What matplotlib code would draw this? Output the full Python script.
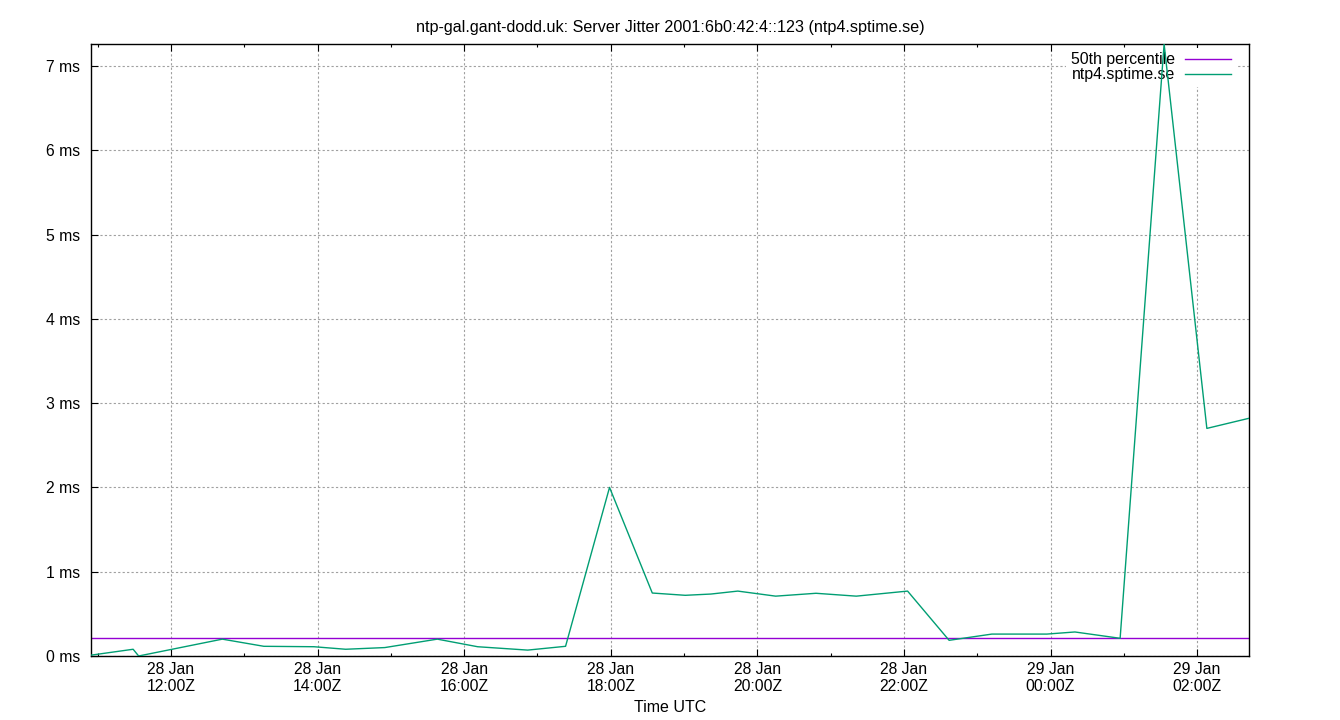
import pandas as pd
import matplotlib.pyplot as plt
import matplotlib.dates as mdates

plt.rcParams['font.family'] = ['Liberation Sans', 'DejaVu Sans']

# Data
times = [
    "2025-01-28 10:54:30", "2025-01-28 11:29:00", "2025-01-28 11:33:30", "2025-01-28 12:42:00",
    "2025-01-28 13:16:00", "2025-01-28 13:57:00", "2025-01-28 14:23:00", "2025-01-28 14:55:00",
    "2025-01-28 15:38:00", "2025-01-28 16:11:00", "2025-01-28 16:52:00", "2025-01-28 17:23:00",
    "2025-01-28 17:59:00", "2025-01-28 18:34:00", "2025-01-28 19:01:00", "2025-01-28 19:22:00",
    "2025-01-28 19:44:00", "2025-01-28 20:15:00", "2025-01-28 20:48:00", "2025-01-28 21:21:00",
    "2025-01-28 22:03:00", "2025-01-28 22:37:00", "2025-01-28 23:12:00", "2025-01-28 23:57:00",
    "2025-01-29 00:20:00", "2025-01-29 00:57:00", "2025-01-29 01:33:00", "2025-01-29 02:08:00",
    "2025-01-29 02:42:30",
]
jitter_ms = [
    0.01, 0.08, 0.00, 0.20,
    0.115, 0.11, 0.08, 0.10,
    0.20, 0.11, 0.07, 0.115,
    2.00, 0.747, 0.72, 0.735,
    0.77, 0.71, 0.744, 0.71,
    0.77, 0.186, 0.26, 0.26,
    0.285, 0.21, 7.26, 2.70,
    2.82,
]
p50_ms = 0.213

title = "ntp-gal.gant-dodd.uk: Server Jitter 2001:6b0:42:4::123 (ntp4.sptime.se)"

t = pd.to_datetime(times, format="%Y-%m-%d %H:%M:%S")

fig = plt.figure(figsize=(13.4, 7.2), dpi=100)
ax = fig.add_axes([91 / 1340, 64 / 720, 1158 / 1340, 612 / 720])

ax.axhline(p50_ms, color='#9400d3', lw=1.0, label='50th percentile', zorder=2)
ax.plot(t, jitter_ms, color='#009e73', lw=1.0, label='ntp4.sptime.se', zorder=3)

ax.set_xlim(t[0], t[-1])
ax.set_ylim(0, max(jitter_ms))

ax.xaxis.set_major_locator(mdates.HourLocator(byhour=range(0, 24, 2)))
ax.xaxis.set_minor_locator(mdates.HourLocator())
ax.xaxis.set_major_formatter(mdates.DateFormatter("%d %b\n%H:%MZ"))
ax.set_yticks(range(0, 8))
ax.set_yticklabels([f"{i} ms" for i in range(0, 8)])

ax.tick_params(which='both', direction='in', top=True, right=False, labelsize=11.3, color='black')
ax.tick_params(which='major', length=5, width=0.8)
ax.tick_params(which='minor', length=2.5, width=0.8)
ax.tick_params(axis='y', pad=8)
ax.tick_params(axis='x', pad=4)

ax.grid(True, which='major', color='#a0a0a0', linestyle=(0, (2, 2)), lw=0.8, zorder=1)
for s in ax.spines.values():
    s.set_linewidth(1.0)

ax.set_xlabel("Time UTC", fontsize=11.5, labelpad=4)
fig.suptitle(title, fontsize=11.6, y=0.972)

leg = ax.legend(loc='upper right', bbox_to_anchor=(0.993, 1.002), markerfirst=False,
                fontsize=11.4, frameon=True, fancybox=False, edgecolor='none',
                facecolor='white', framealpha=1,
                handlelength=2.9, handletextpad=0.65, labelspacing=0.0,
                borderpad=0.3, borderaxespad=0.3)
leg.set_zorder(1.8)

fig.savefig("out.png", dpi=100)
